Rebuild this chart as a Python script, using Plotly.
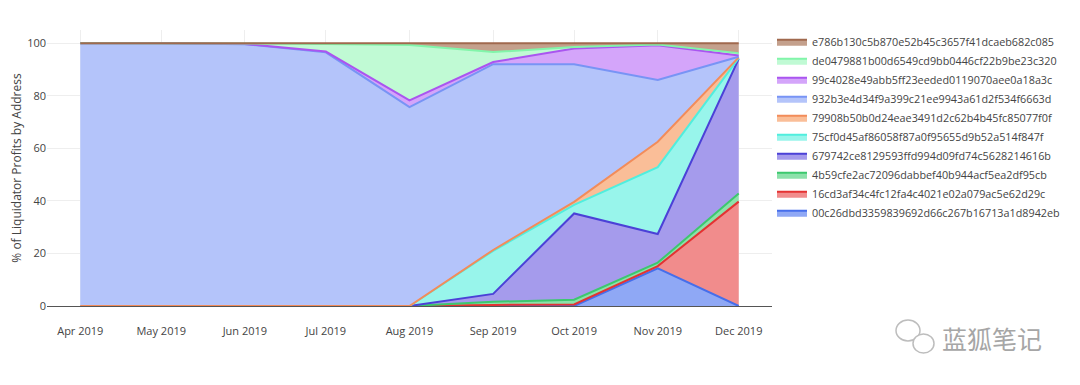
import plotly.graph_objects as go

months = ["2019-04-01", "2019-05-01", "2019-06-01", "2019-07-01", "2019-08-01",
          "2019-09-01", "2019-10-01", "2019-11-01", "2019-12-01"]

names = [
    "00c26dbd3359839692d66c267b16713a1d8942eb",
    "16cd3af34c4fc12fa4c4021e02a079ac5e62d29c",
    "4b59cfe2ac72096dabbef40b944acf5ea2df95cb",
    "679742ce8129593ffd994d09fd74c5628214616b",
    "75cf0d45af86058f87a0f95655d9b52a514f847f",
    "79908b50b0d24eae3491d2c62b4b45fc85077f0f",
    "932b3e4d34f9a399c21ee9943a61d2f534f6663d",
    "99c4028e49abb5ff23eeded0119070aee0a18a3c",
    "de0479881b00d6549cd9bb0446cf22b9be23c320",
    "e786b130c5b870e52b45c3657f41dcaeb682c085",
]

v_00c26 = [0, 0, 0, 0, 0, 0, 0, 14.3, 0]
v_16cd = [0, 0, 0, 0, 0, 0.4, 0.6, 0.9, 39.7]
v_4b59 = [0, 0, 0, 0, 0, 1.2, 1.8, 1.3, 3.1]
v_6797 = [0, 0, 0, 0, 0, 3.0, 32.8, 10.9, 51.2]
v_75cf = [0, 0, 0, 0, 0, 16.4, 3.3, 25.4, 0.3]
v_7990 = [0, 0, 0, 0, 0, 0.3, 1.1, 9.7, 0.3]
v_932b = [100, 100, 99.6, 96.5, 75.7, 70.7, 52.4, 23.5, 0.2]
v_99c4 = [0, 0, 0.1, 0.3, 2.5, 0.8, 6.0, 13.2, 0.5]
v_de04 = [0, 0, 0.2, 2.9, 21.1, 3.8, 0.5, 0.3, 0.9]
v_e786 = [0, 0, 0.1, 0.3, 0.7, 3.4, 1.5, 0.5, 3.8]

series = [v_00c26, v_16cd, v_4b59, v_6797, v_75cf, v_7990, v_932b, v_99c4, v_de04, v_e786]

line_colors = [
    "rgb(70,110,235)", "rgb(228,50,50)", "rgb(60,200,110)", "rgb(75,65,215)",
    "rgb(80,238,222)", "rgb(242,140,90)", "rgb(120,148,245)", "rgb(170,85,240)",
    "rgb(130,245,170)", "rgb(160,105,78)",
]
fill_colors = [
    "rgb(143,168,245)", "rgb(241,140,140)", "rgb(140,225,170)", "rgb(165,155,236)",
    "rgb(152,245,235)", "rgb(250,190,152)", "rgb(180,196,250)", "rgb(212,165,250)",
    "rgb(192,250,212)", "rgb(196,160,140)",
]

fig = go.Figure()
for name, vals, lc, fc in zip(names, series, line_colors, fill_colors):
    fig.add_trace(go.Scatter(
        x=months, y=vals, name=name, mode="lines",
        stackgroup="one", line=dict(color=lc, width=2), fillcolor=fc,
    ))

fig.update_layout(
    width=1080, height=385,
    margin=dict(l=39, r=316, t=22, b=87),
    paper_bgcolor="white", plot_bgcolor="white",
    font=dict(family="Open Sans, Verdana, sans-serif", size=11, color="#444"),
    showlegend=True,
    legend=dict(traceorder="reversed", x=1.0, y=1.01, xanchor="left", yanchor="top",
                font=dict(size=10.8), bgcolor="rgba(0,0,0,0)", maxheight=340),
    xaxis=dict(
        type="date", range=["2019-03-19 16:00", "2019-12-13 08:00"],
        dtick="M1", tickformat="%b %Y", showgrid=True, gridcolor="#eee",
        zeroline=False, showline=False, ticks="", ticklabelstandoff=17,
        automargin=False,
    ),
    yaxis=dict(
        range=[0, 105], dtick=20, showgrid=True, gridcolor="#eee",
        zeroline=True, zerolinecolor="#555", zerolinewidth=1,
        title=dict(text="% of Liquidator Profits by Address", font=dict(size=12), standoff=3),
        ticks="", automargin=False,
    ),
)

# watermark
wx = (900 - 47) / 725
wy = (306 - 335) / 276
fig.add_annotation(text="蓝狐笔记", xref="paper", yref="paper", x=(940 - 47) / 725, y=(306 - 338) / 276,
                   xanchor="left", yanchor="middle", showarrow=False,
                   font=dict(family="Noto Sans CJK SC", size=25, color="#a6a6a6"))
fig.add_shape(type="circle", xref="paper", yref="paper", xsizemode="pixel", ysizemode="pixel",
              xanchor=wx, yanchor=wy, x0=-4, x1=20, y0=-6, y1=15,
              line=dict(color="#bdbdbd", width=1.5), fillcolor="white")
fig.add_shape(type="circle", xref="paper", yref="paper", xsizemode="pixel", ysizemode="pixel",
              xanchor=wx, yanchor=wy, x0=13, x1=34, y0=-18, y1=1,
              line=dict(color="#bdbdbd", width=1.5), fillcolor="white")

fig.write_html("out.html")
